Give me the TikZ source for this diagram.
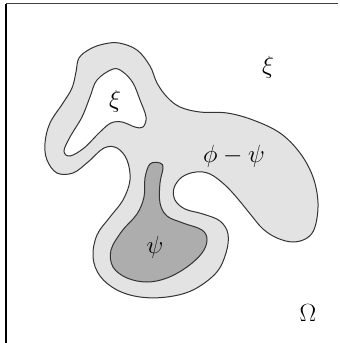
\documentclass[tikz,border=0pt]{standalone}
\begin{document}
\begin{tikzpicture}[x=1pt,y=-1pt,
  region/.style={draw=black!80,line width=1pt},
  lbl/.style={font=\fontsize{24}{28}\selectfont,inner sep=0pt}]
\useasboundingbox (0,0) rectangle (340,343);
\fill[white] (0,0) rectangle (340,343);
\draw[black!75,line width=1.6pt] (6,3.5) -- (338,3.5);
\draw[black,line width=1.6pt] (6,3.5) -- (6,343);
% outer light region
\draw[region,fill=black!11] plot[smooth cycle,tension=0.6] coordinates {
 (79,58) (90,49) (104,44) (119,43) (137,50) (150,66) (157,83) (167,97) (180,107) (200,112)
 (227,113) (253,120) (280,133) (300,153) (313,177) (318,203) (315,227) (307,238)
 (293,242) (277,238) (263,229) (251,215) (238,199) (225,185) (210,174) (196,172)
 (182,177) (174,188) (175,200) (185,209) (203,214) (220,221) (228,234) (226,253)
 (216,273) (193,290) (167,297) (140,297) (117,290) (100,276) (93,257) (97,235)
 (110,217) (123,200) (130,180) (127,160) (117,148) (104,148) (88,162) (73,173)
 (57,173) (47,160) (45,143) (50,123) (63,103) (72,88) (76,72)};
% white hole
\draw[region,fill=white] plot[smooth cycle,tension=0.6] coordinates {
 (113,69) (123,72) (133,83) (140,100) (146,117) (143,127) (135,127) (122,122)
 (111,123) (100,132) (84,148) (70,156) (64,151) (70,137) (82,117) (90,97) (97,80)};
% dark region
\draw[region,fill=black!32] plot[smooth cycle,tension=0.6] coordinates {
 (150,164) (160,163) (163,168) (160,183) (160,203) (167,216) (183,223) (202,230)
 (207,240) (202,253) (187,267) (167,278) (147,282) (127,278) (113,267) (111,250)
 (122,231) (137,214) (144,197) (145,178)};
\node[lbl] (xiout) at (268,67) {$\xi$};
\node[lbl] (xiin) at (115,101) {$\xi$};
\node[lbl] (phipsi) at (234,156) {$\phi-\psi$};
\node[lbl] (psi) at (155,247) {$\psi$};
\node[lbl,font=\fontsize{26}{30}\selectfont] (omega) at (308,313) {$\Omega$};
\end{tikzpicture}
\end{document}
